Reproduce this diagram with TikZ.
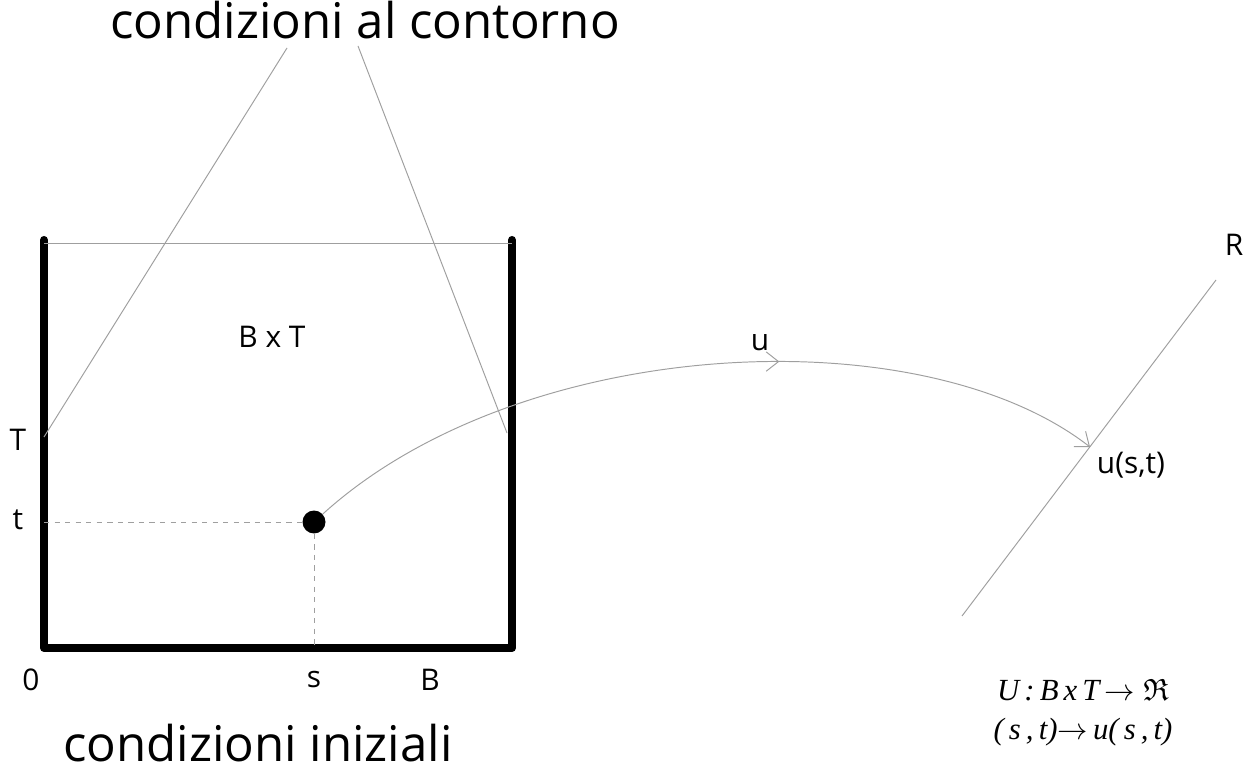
\documentclass[tikz,border=0pt]{standalone}
\usepackage{amssymb}
\usepackage{fontspec}
\setmainfont{Open Sans}
\newfontfamily\formfont{Liberation Serif}
\usetikzlibrary{arrows.meta,decorations.markings,positioning}

\begin{document}
\begin{tikzpicture}[x=0.02cm,y=-0.02cm,
  wall/.style={draw=black,line width=4.6pt,line join=round,line cap=round},
  thinline/.style={draw=gray!75,line width=0.55pt},
  guide/.style={draw=gray!75,dashed,line width=0.55pt},
  tip/.style={-{Straight Barb[length=7pt,width=11pt]}},
  lbl/.style={font=\fontsize{17}{20}\selectfont,inner sep=0pt},
  title/.style={font=\fontsize{28}{34}\selectfont,inner sep=0pt},
  formula/.style={font=\formfont\itshape\fontsize{17.5}{21}\selectfont,inner sep=0pt},
  point/.style={circle,fill=black,inner sep=0pt,minimum size=0.46cm},
]
\useasboundingbox (0,0) rectangle (1254,776);

% domain B x T
\coordinate (o)  at (44,648);
\coordinate (ob) at (512,648);
\coordinate (ot) at (44,240);
\coordinate (bt) at (512,240);
\draw[wall] (ot) -- (o) -- (ob) -- (bt);
\draw[thinline] (44,243) -- (512,243);

% boundary conditions
\node[title] (contorno) at (365,20) {condizioni al contorno};
\coordinate (c1) at (287,48);
\coordinate (c2) at (358,46);
\coordinate (tl) at (44,437);
\coordinate (tr) at (507,433);
\draw[thinline] (c1) -- (tl);
\draw[thinline] (c2) -- (tr);

% point (s,t)
\node[point] (p) at (314,522) {};
\coordinate (tp) at (44,522);
\coordinate (sp) at (314,648);
\draw[guide] (tp) -- (p);
\draw[guide] (p) -- (sp);

% labels
\node[lbl] (lT) at (18,440) {T};
\node[lbl] (lt) at (18,520) {t};
\node[lbl] (l0) at (31,680) {0};
\node[lbl] (ls) at (314,680) {s};
\node[lbl] (lB) at (430,680) {B};
\node[lbl] (BxT) at (272,337) {B x T};
\node[title] (iniziali) at (258,743) {condizioni iniziali};

% real line R
\coordinate (r0) at (962,616);
\coordinate (r1) at (1216,280);
\draw[thinline] (r0) -- (r1);
\node[lbl] (lR) at (1234,245) {R};
\coordinate (ust) at (1090,447);

% map u
\draw[thinline,tip,decoration={markings,
    mark=at position 0.6 with {\arrow{Straight Barb[length=7pt,width=11pt]}}},
    postaction={decorate}]
  (p) .. controls (520,335) and (920,315) .. (ust);
\node[lbl] (lu) at (760,343) {u};
\node[lbl] (lust) at (1131,465) {u(s,t)};

% formula
\node[formula] (f1) at (1083,690) {U\,:\,B\,x\,T\,$\rightarrow\mathfrak{R}$};
\node[formula] (f2) at (1083,732) {(\,s\,,\,t)$\rightarrow$\,u(\,s\,,\,t)};
\end{tikzpicture}
\end{document}
